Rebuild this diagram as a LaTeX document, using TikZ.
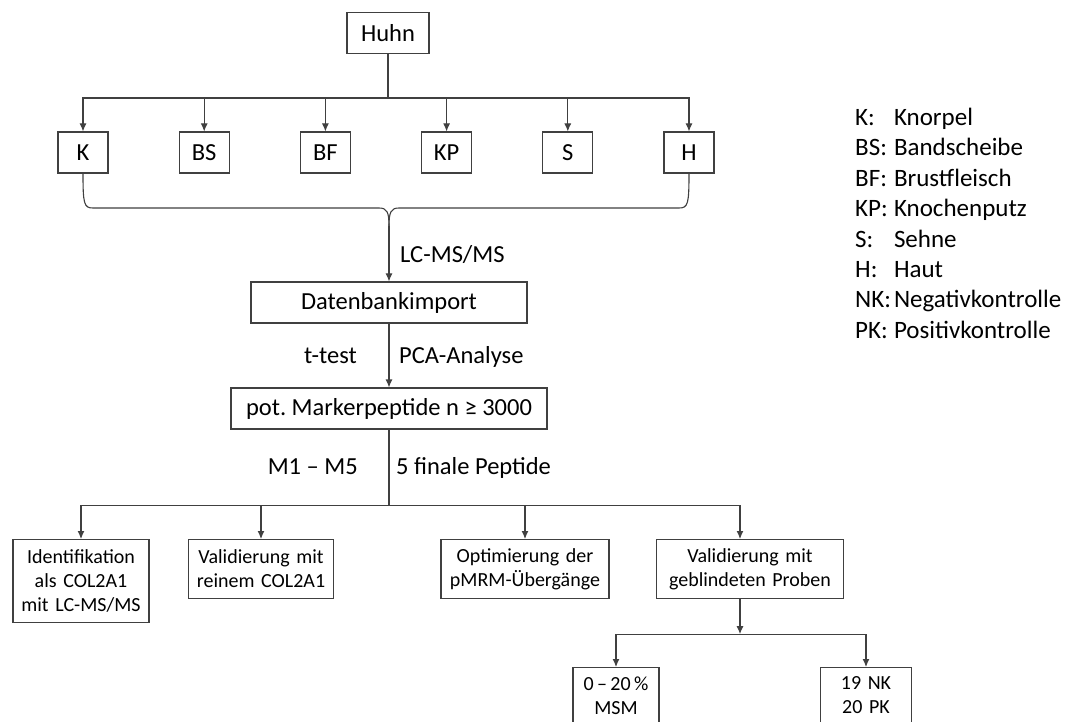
\documentclass[tikz,border=0pt]{standalone}
\usepackage{fontspec}
\setmainfont{Carlito}
\usetikzlibrary{arrows.meta,positioning}
\frenchspacing
\tikzset{
  box/.style={draw=black!75, line width=1.1pt, inner sep=0pt, minimum height=41pt,
    font=\fontsize{24.5}{29}\selectfont},
  subbox/.style={draw=black!75, line width=1.1pt, inner sep=0pt, align=center, anchor=north,
    font=\fontsize{20}{24}\selectfont},
  link/.style={draw=black!75, line width=1.1pt},
  arr/.style={link, -{Latex[length=8pt,width=7pt]}},
  lbl/.style={inner sep=0pt, font=\fontsize{24.5}{29}\selectfont},
}

\begin{document}
\begin{tikzpicture}[x=1pt,y=-1pt]
	\useasboundingbox (0,0) rectangle (1080,722);
	\clip (0,0) rectangle (1080,722);
	\fill[white] (0,0) rectangle (1080,722);
	
	% Huhn und Gewebe
	\node[box, minimum width=82pt] (huhn) at (388,33) {Huhn};
	\foreach \n [count=\i from 0] in {K,BS,BF,KP,S,H}{%
		\node[box, minimum width=50pt] (\n) at ({83+121.2*\i},152.5) {\n};
		\draw[arr] (huhn.south) -- ++(0,44) -| (\n.north);
	}
	
	% Klammer
	\coordinate (tip) at (389,226);
	\draw[link] (K.south) .. controls (83,204) and (84,208) .. (93,208) -- (379,208)
		.. controls (387,208) and (389,212) .. (tip);
	\draw[link] (H.south) .. controls (689,204) and (688,208) .. (679,208) -- (399,208)
		.. controls (391,208) and (389,212) .. (tip);
	
	\node[box, minimum width=276pt] (db) at (389,302.5) {Datenbankimport};
	\draw[arr] (tip) -- (db.north);
	\node[lbl, anchor=base west] (lcms) at (400,263) {LC-MS/MS};
	
	\node[box, minimum width=316pt] (pot) at (389,408.5) {pot. Markerpeptide n ≥ 3000};
	\draw[arr] (db) -- (pot);
	\node[lbl, anchor=base east] (ttest) at (357,363) {t-test};
	\node[lbl, anchor=base west] (pca) at (399,363) {PCA-Analyse};
	
	\node[lbl, anchor=base east] (mm) at (358,474) {M1 – M5};
	\node[lbl, anchor=base west] (fin) at (396,474) {5 finale Peptide};
	
	% Experimente
	\node[subbox, text width=136pt, minimum height=83pt] (ident) at (81,539) {Identifikation\\als COL2A1\\mit LC-MS/MS};
	\node[subbox, text width=145pt, minimum height=59pt] (valrein) at (261,539) {Validierung mit\\reinem COL2A1};
	\node[subbox, text width=168pt, minimum height=59pt] (opt) at (525,539) {Optimierung der\\pMRM-Übergänge};
	\node[subbox, text width=187pt, minimum height=59pt] (valblind) at (750,539) {Validierung mit\\geblindeten Proben};
	\foreach \n in {ident,valrein,opt}
		\draw[arr] (pot.south) -- ++(0,76) -| (\n.north);
	\draw[arr] (pot.south) -- ++(0,76) -| ([xshift=-10pt]valblind.north);
	
	% Proben
	\node[subbox, text width=86pt, minimum height=56pt] (msm) at (616,667) {0\,–\,20\,\%\\MSM};
	\node[subbox, text width=91pt, minimum height=56pt] (nkpk) at (866,667) {19 NK\\20 PK};
	\coordinate (split) at ([xshift=-10pt,yshift=-35pt]valblind.south);
	\draw[arr] ([xshift=-10pt]valblind.south) -- (split);
	\draw[arr] (split) -| (msm.north);
	\draw[arr] (split) -| (nkpk.north);
	
	% Legende
	\node[anchor=north west, inner sep=0pt, font=\fontsize{25}{30.4}\selectfont] (legend) at (855,104)
		{\begin{tabular}{@{}l@{\hspace{3pt}}l@{}}
			K: & Knorpel\\
			BS: & Bandscheibe\\
			BF: & Brustfleisch\\
			KP: & Knochenputz\\
			S: & Sehne\\
			H: & Haut\\
			NK: & Negativkontrolle\\
			PK: & Positivkontrolle
		\end{tabular}};
\end{tikzpicture}
\end{document}
